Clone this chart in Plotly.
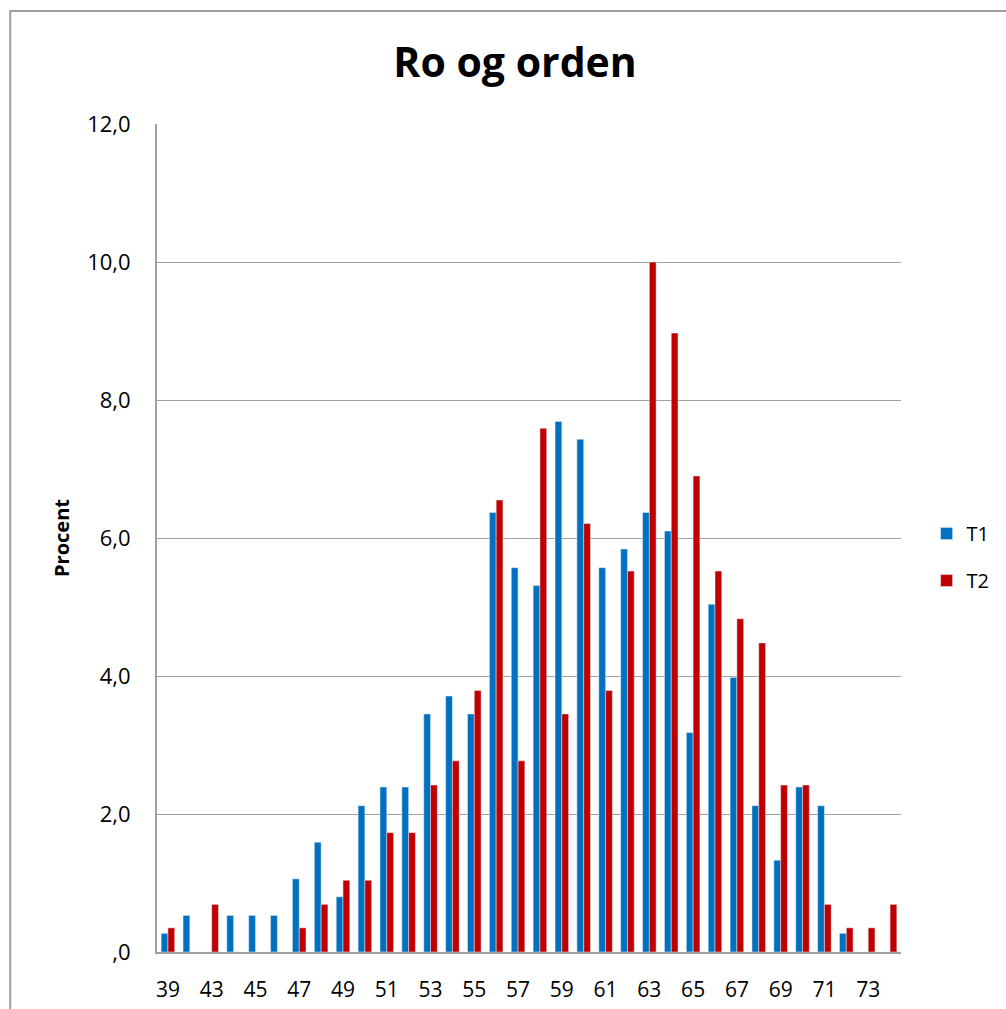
import plotly.graph_objects as go

# score categories (40 and 41 are absent in the source chart)
categories = ["39"] + [str(v) for v in range(42, 75)]

t1_values = [0.27, 0.53, 0.0, 0.53, 0.53, 0.53, 1.06, 1.59, 0.80, 2.12,
             2.39, 2.39, 3.45, 3.71, 3.45, 6.37, 5.57, 5.31, 7.69, 7.43,
             5.57, 5.84, 6.37, 6.10, 3.18, 5.04, 3.98, 2.12, 1.33, 2.39,
             2.12, 0.27, 0.0, 0.0]

t2_values = [0.35, 0.0, 0.69, 0.0, 0.0, 0.0, 0.35, 0.69, 1.04, 1.04,
             1.73, 1.73, 2.42, 2.77, 3.79, 6.55, 2.77, 7.59, 3.45, 6.21,
             3.79, 5.52, 10.0, 8.97, 6.90, 5.52, 4.83, 4.48, 2.42, 2.42,
             0.69, 0.35, 0.35, 0.69]

x_ticks = categories[0::2]
y_ticks = [0, 2, 4, 6, 8, 10, 12]
y_tick_text = [",0", "2,0", "4,0", "6,0", "8,0", "10,0", "12,0"]

FONT = "Open Sans"

fig = go.Figure()

fig.add_trace(go.Bar(
    x=categories, y=t1_values, name="T1",
    marker_color="#0070C0", legendgroup="a",
))
fig.add_trace(go.Bar(
    x=categories, y=t2_values, name="T2",
    marker_color="#C00000", legendgroup="b",
))

fig.update_layout(
    width=1006, height=1009,
    margin=dict(l=157, r=104, t=124, b=57),
    paper_bgcolor="white",
    plot_bgcolor="white",
    barmode="group",
    bargap=0.38,
    bargroupgap=0.0,
    font=dict(family=FONT, size=21, color="black"),
    title=dict(
        text="<b>Ro og orden</b>",
        x=0.512, xanchor="center",
        y=1 - 63 / 1009, yanchor="middle",
        font=dict(family=FONT, size=41, color="black"),
    ),
    legend=dict(
        x=1.033, xanchor="left",
        y=0.477, yanchor="middle",
        traceorder="grouped",
        tracegroupgap=18,
        font=dict(family=FONT, size=20, color="black"),
        itemwidth=30,
    ),
    showlegend=True,
)

fig.update_xaxes(
    type="category",
    categoryorder="array", categoryarray=categories,
    tickmode="array", tickvals=x_ticks, ticktext=x_ticks,
    showline=True, linecolor="#A0A0A0", linewidth=2,
    showgrid=False, ticks="",
    ticklabelstandoff=18,
    tickfont=dict(size=21),
    automargin=False,
)

fig.update_yaxes(
    range=[0, 12],
    tickmode="array", tickvals=y_ticks, ticktext=y_tick_text,
    showline=True, linecolor="#A0A0A0", linewidth=2,
    showgrid=True, gridcolor="#A0A0A0", gridwidth=1.3,
    zeroline=False, ticks="",
    ticklabelstandoff=20,
    tickfont=dict(size=22),
    title=dict(text="<b>Procent</b>", font=dict(family=FONT, size=20), standoff=12),
    automargin=False,
)

# outer chart frame
fig.add_shape(
    type="rect", xref="paper", yref="paper",
    x0=(10 - 157) / 745, x1=1.3,
    y0=-0.2, y1=(952 - 11) / 828,
    line=dict(color="#A0A0A0", width=2),
    fillcolor="rgba(0,0,0,0)", layer="below",
)

fig.write_html("out.html", config={"displayModeBar": False},
               post_script="document.body.style.margin='0';")
